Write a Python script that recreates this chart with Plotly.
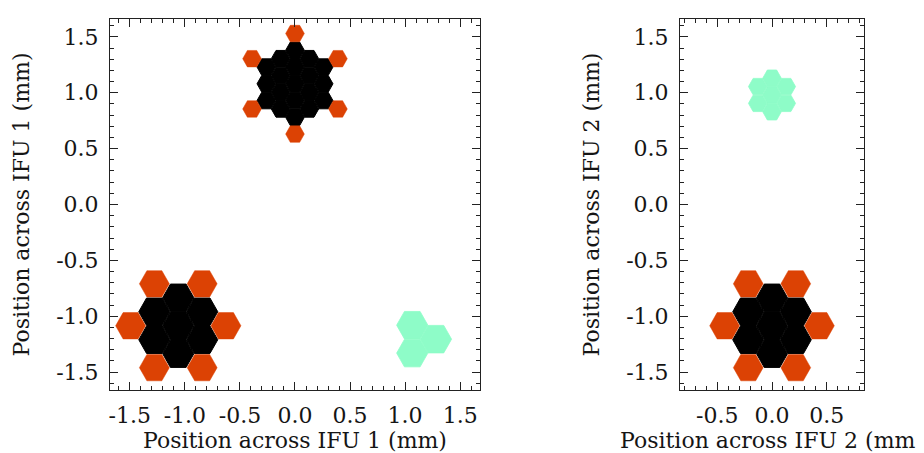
import plotly.graph_objects as go
import math

# ---------------- data (mm) ----------------
# IFU 1 (left panel)
ifu1_core_x = [0.0, 0.0, 0.0, -0.13, 0.13, -0.13, 0.13,
               0.0, 0.0, -0.13, 0.13, -0.13, 0.13, -0.26, 0.26, -0.26, 0.26, -0.26, 0.26]
ifu1_core_y = [1.08, 1.23, 0.93, 1.155, 1.155, 1.005, 1.005,
               1.38, 0.78, 1.305, 1.305, 0.855, 0.855, 1.23, 1.23, 1.08, 1.08, 0.93, 0.93]
ifu1_sky_x = [0.0, 0.0, -0.39, 0.39, -0.39, 0.39]
ifu1_sky_y = [1.53, 0.63, 1.305, 1.305, 0.855, 0.855]

ifu1_big_x = [-1.06, -1.06, -1.06, -1.277, -1.277, -0.843, -0.843]
ifu1_big_y = [-1.085, -0.835, -1.335, -0.96, -1.21, -0.96, -1.21]
ifu1_bigsky_x = [-1.277, -0.843, -1.493, -0.627, -1.277, -0.843]
ifu1_bigsky_y = [-0.71, -0.71, -1.085, -1.085, -1.46, -1.46]

ifu1_teal_x = [1.065, 1.065, 1.28]
ifu1_teal_y = [-1.08, -1.33, -1.205]

# IFU 2 (right panel)
ifu2_teal_x = [0.0, 0.0, 0.0, -0.13, 0.13, -0.13, 0.13]
ifu2_teal_y = [0.98, 1.13, 0.83, 1.055, 1.055, 0.905, 0.905]

ifu2_big_x = [0.0, 0.0, 0.0, -0.217, -0.217, 0.217, 0.217]
ifu2_big_y = [-1.085, -0.835, -1.335, -0.96, -1.21, -0.96, -1.21]
ifu2_bigsky_x = [-0.217, 0.217, -0.433, 0.433, -0.217, 0.217]
ifu2_bigsky_y = [-0.71, -0.71, -1.085, -1.085, -1.46, -1.46]

# tick labels
tick_vals_1 = [-1.5, -1.0, -0.5, 0.0, 0.5, 1.0, 1.5]
tick_text_1 = ["-1.5", "-1.0", "-0.5", "0.0", "0.5", "1.0", "1.5"]
tick_vals_2 = [-0.5, 0.0, 0.5]
tick_text_2 = ["-0.5", "0.0", "0.5"]

# ---------------- styles ----------------
BLACK = "#000000"
ORANGE = "#DC4204"
TEAL = "#8EFCC8"
R_SMALL = 0.085
R_BIG = 0.142
FONT = "DejaVu Serif"


def hexes(xs, ys, r):
    px, py = [], []
    for cx, cy in zip(xs, ys):
        for k in range(7):
            a = math.radians(60 * k)
            px.append(cx + r * math.cos(a))
            py.append(cy + r * math.sin(a))
        px.append(None)
        py.append(None)
    return px, py


fig = go.Figure()


def add(xs, ys, r, color, xa, ya, lw):
    px, py = hexes(xs, ys, r)
    fig.add_trace(go.Scatter(x=px, y=py, mode="lines", fill="toself",
                             fillcolor=color, line=dict(width=lw, color=color),
                             hoverinfo="skip", xaxis=xa, yaxis=ya))


add(ifu1_core_x, ifu1_core_y, R_SMALL, BLACK, "x", "y", 1)
add(ifu1_sky_x, ifu1_sky_y, R_SMALL, ORANGE, "x", "y", 0.5)
add(ifu1_big_x, ifu1_big_y, R_BIG, BLACK, "x", "y", 1)
add(ifu1_bigsky_x, ifu1_bigsky_y, R_BIG - 0.006, ORANGE, "x", "y", 0.5)
add(ifu1_teal_x, ifu1_teal_y, R_BIG, TEAL, "x", "y", 0.8)

add(ifu2_teal_x, ifu2_teal_y, R_SMALL, TEAL, "x2", "y2", 0.8)
add(ifu2_big_x, ifu2_big_y, R_BIG, BLACK, "x2", "y2", 1)
add(ifu2_bigsky_x, ifu2_bigsky_y, R_BIG - 0.006, ORANGE, "x2", "y2", 0.5)

tickfont = dict(family=FONT, size=22, color="#151515")
titlefont = dict(family=FONT, size=22, color="#151515")


def axis_common(vals, texts):
    return dict(
        tickmode="array", tickvals=vals, ticktext=texts,
        ticks="inside", ticklen=8, tickwidth=1, tickcolor="#222",
        minor=dict(tickmode="linear", tick0=0, dtick=0.1, ticks="inside",
                   ticklen=4, tickwidth=1, tickcolor="#222", showgrid=False),
        showline=True, linecolor="#222", linewidth=1, mirror="ticks",
        showgrid=False, zeroline=False, tickfont=tickfont, automargin=False,
    )


fig.update_layout(
    width=924, height=453,
    margin=dict(l=102, r=68, t=11, b=71),
    plot_bgcolor="white", paper_bgcolor="white",
    showlegend=False,
    xaxis=dict(domain=[0, 0.4907], range=[-1.68, 1.68], anchor="y",
               ticklabelstandoff=6,
               title=dict(text="Position across IFU 1 (mm)", font=titlefont, standoff=2),
               **axis_common(tick_vals_1, tick_text_1)),
    yaxis=dict(domain=[0, 1], range=[-1.66, 1.66], anchor="x",
               ticklabelstandoff=6,
               title=dict(text="Position across IFU 1 (mm)", font=titlefont, standoff=20),
               **axis_common(tick_vals_1, tick_text_1)),
    xaxis2=dict(domain=[0.756, 1], range=[-0.84, 0.84], anchor="y2",
                ticklabelstandoff=6,
                title=dict(text="Position across IFU 2 (mm)", font=titlefont, standoff=2),
                **axis_common(tick_vals_2, tick_text_2)),
    yaxis2=dict(domain=[0, 1], range=[-1.66, 1.66], anchor="x2",
                ticklabelstandoff=6,
                title=dict(text="Position across IFU 2 (mm)", font=titlefont, standoff=20),
                **axis_common(tick_vals_1, tick_text_1)),
)

fig.write_html("out.html")
